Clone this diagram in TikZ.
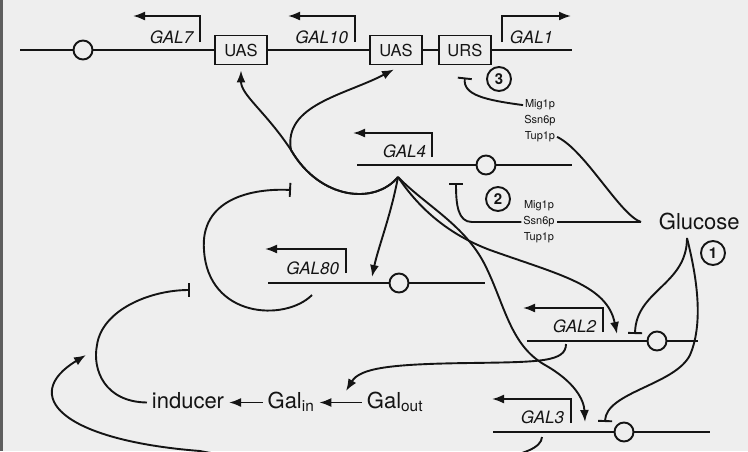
\documentclass[tikz,border=0pt]{standalone}
\usepackage{fontspec}
\setmainfont{TeX Gyre Heros}
\usepackage{xcolor}
\usepackage{tikz}
\usetikzlibrary{calc,positioning,arrows.meta}
\definecolor{figPaper}{HTML}{EEEEEE}
\definecolor{figInk}{HTML}{141414}
\definecolor{figEdge}{HTML}{5E5E5E}

\begin{document}
\begin{tikzpicture}[
  x=1pt, y=-1pt,
  color=figInk, line width=1.9pt,
  box/.style={
    rectangle, draw, fill=figPaper, line width=1.9pt,
    minimum width=52pt, minimum height=29pt, inner sep=0pt,
    font=\fontsize{16.5}{18}\selectfont
  },
  site/.style={circle, draw, fill=figPaper, line width=1.9pt, minimum size=19pt, inner sep=0pt},
  num/.style={
    circle, draw, line width=1.9pt, minimum size=24pt, inner sep=0pt,
    font=\fontsize{15}{15}\selectfont\bfseries
  },
  glab/.style={font=\fontsize{17}{19}\selectfont\itshape, inner sep=0pt, anchor=base east},
  prot/.style={font=\fontsize{11}{12}\selectfont, inner sep=1pt, text height=8pt, text depth=2.5pt},
  big/.style={font=\fontsize{22}{24}\selectfont, inner sep=4pt, text height=16pt, text depth=5pt},
  prom/.style={-{Latex[length=12pt,width=9pt]}},
  act/.style={-{Latex[length=12pt,width=9pt]}},
  rep/.style={-{Bar[width=14pt]}},
]

\useasboundingbox (0,0) rectangle (748,451);
\clip (0,0) rectangle (748,451);
\fill[figPaper] (0,0) rectangle (748,451);
\draw[line width=2.5pt, figEdge] (1.25,0) -- (1.25,451);

% === GAL7 - GAL10 - GAL1 cluster ===
\coordinate (top0) at (20,50);
\coordinate (top1) at (572,50);
\node[site] (o7) at (83,50) {};
\node[box] (uas1) at (241,50) {UAS};
\node[box] (uas2) at (396,50) {UAS};
\node[box, right=15pt of uas2] (urs) {URS};
\draw (top0) -- (o7) -- (uas1) -- (uas2) -- (urs) -- (top1);

\draw[prom] (200,42) |- (133,16);
\node[glab] (l7) at (194,43) {GAL7};
\draw[prom] (355,42) |- (288,16);
\node[glab] (l10) at (349,43) {GAL10};
\draw[prom] (502,42) |- (571,16);
\node[glab, anchor=base west] (l1) at (509,43) {GAL1};

% === GAL4 ===
\coordinate (g4a) at (357,165);
\coordinate (g4b) at (572,165);
\node[site] (o4) at (486,165) {};
\draw (g4a) -- (o4) -- (g4b);
\draw[prom] (432,157) |- (353,133);
\node[glab] (l4) at (427,157) {GAL4};

% === GAL80 ===
\coordinate (g80a) at (268,283);
\coordinate (g80b) at (485,283);
\node[site] (o80) at (399,283) {};
\draw (g80a) -- (o80) -- (g80b);
\draw[prom] (346,273) |- (265,249);
\node[glab] (l80) at (340,274) {GAL80};

% === GAL2 ===
\coordinate (g2a) at (527,341);
\coordinate (g2b) at (698,341);
\node[site] (o2) at (657,341) {};
\draw (g2a) -- (o2) -- (g2b);
\draw[prom] (603,332) |- (523,308);
\node[glab] (l2) at (597,332) {GAL2};

% === GAL3 ===
\coordinate (g3a) at (493,432);
\coordinate (g3b) at (710,432);
\node[site] (o3) at (624,432) {};
\draw (g3a) -- (o3) -- (g3b);
\draw[prom] (571,423) |- (492,399);
\node[glab] (l3) at (565,423) {GAL3};

% === Repressor complexes and glucose ===
\node[prot] (ssn3) at (540,121) {Ssn6p};
\node[prot, above=1.5pt of ssn3] (mig3) {Mig1p};
\node[prot, below=1.5pt of ssn3] (tup3) {Tup1p};

\node[prot] (ssn2) at (539,222) {Ssn6p};
\node[prot, above=1.5pt of ssn2] (mig2) {Mig1p};
\node[prot, below=1.5pt of ssn2] (tup2) {Tup1p};

\node[big, anchor=west] (glc) at (654,224) {Glucose};
\coordinate (gj) at (641,222);
\coordinate (gdown) at (687,238);

\node[num] (n3) at (499,79) {3};
\node[num] (n2) at (498,199) {2};
\node[num] (n1) at (713,253) {1};

% === Sugar uptake ===
\node[big, anchor=base] (ind) at (188,408) {inducer};
\node[big, anchor=base] (gin) at (291,408) {Gal\textsubscript{in}};
\node[big, anchor=base] (gout) at (395,408) {Gal\textsubscript{out}};
\draw[act] (gin) -- (ind);
\draw[act] (gout) -- (gin);

% === Ends of the regulatory curves ===
\coordinate (g4out) at (398,177);
\coordinate (fork) at (291,150);
\coordinate (u1tip) at ([yshift=-5pt]uas1.south);
\coordinate (u2tip) at ([shift={(-2pt,-4pt)}]uas2.south);
\coordinate (t80) at (372,277);
\coordinate (t2) at (617,334);
\coordinate (t3) at (585,422);
\coordinate (g80out) at (312,295);
\coordinate (r80) at (291,190);
\coordinate (rind) at (190,290);
\coordinate (g2out) at (566,344);
\coordinate (t2p) at (346,391);
\coordinate (g3out) at (542,437);
\coordinate (t3p) at (86,355);
\coordinate (r3) at ([yshift=-12pt]urs.south);
\coordinate (r2) at (456,183);
\coordinate (r2g) at (635,334);
\coordinate (r3g) at (605,422);

% === Gal4p activation ===
\draw[act] (g4out) .. controls (375,205) and (320,200) .. (fork)
  .. controls (266,112) and (241,95) .. (u1tip);
\draw[act] (g4out) .. controls (375,205) and (320,200) .. (fork)
  .. controls (283,105) and (345,95) .. (u2tip);
\draw[act] (g4out) .. controls (391,215) and (378,248) .. (t80);
\draw[act] (g4out) .. controls (420,210) and (450,235) .. (490,250)
  .. controls (560,275) and (607,285) .. (t2);
\draw[act] (g4out) .. controls (425,205) and (465,225) .. (485,265)
  .. controls (505,305) and (510,345) .. (545,365)
  .. controls (575,382) and (584,400) .. (t3);

% === Gal80p, inducer, Gal2p and Gal3p ===
\draw[rep] (g80out) .. controls (285,322) and (208,318) .. (204,250)
  .. controls (200,200) and (250,188) .. (r80);
\draw[rep] (ind.west) .. controls (105,402) and (92,370) .. (97,345)
  .. controls (102,310) and (150,290) .. (rind);
\draw[act] (g2out) .. controls (566,362) and (540,362) .. (470,363)
  .. controls (390,364) and (360,368) .. (t2p);
\draw[act] (g3out) .. controls (540,480) and (250,462) .. (200,451)
  .. controls (60,440) and (20,395) .. (t3p);

% === Glucose repression ===
\draw[rep] (mig3.west) .. controls (485,100) and (463,95) .. (r3);
\draw (tup3.east) .. controls (585,150) and (620,215) .. (gj);
\draw (gj) -- (ssn2.east);
\draw[rep] (ssn2.west) -- (472,222) .. controls (458,222) and (456,205) .. (r2);
\draw[rep] (gdown) .. controls (687,285) and (636,290) .. (r2g);
\draw[rep] (gdown) .. controls (695,270) and (705,320) .. (690,355)
  .. controls (675,385) and (606,392) .. (r3g);

\end{tikzpicture}
\end{document}
